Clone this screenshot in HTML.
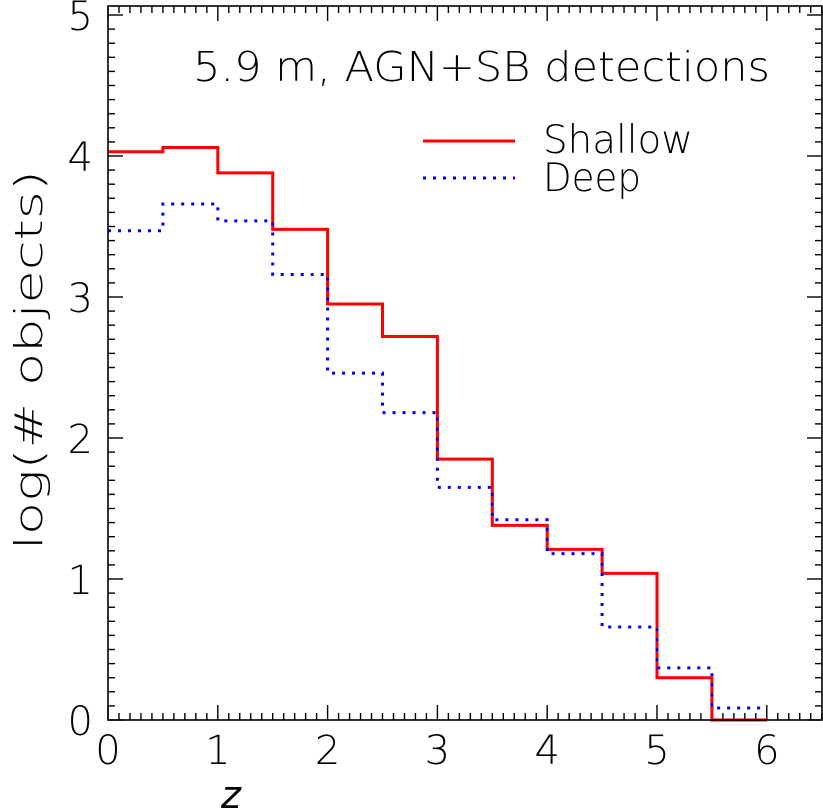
<!DOCTYPE html>
<html><head><meta charset="utf-8"><style>
html,body{margin:0;padding:0;background:#fff;}
svg{display:block;font-family:"DejaVu Sans","Liberation Sans",sans-serif;}
</style></head><body>
<svg id="chart" width="823" height="811" viewBox="0 0 823 811" xmlns="http://www.w3.org/2000/svg">
<g id="ticks"></g>
<g id="series"></g>
<rect x="108" y="6" width="714" height="714" fill="none" stroke="#000" stroke-width="1.6"/>
<text x="193" y="81" font-size="41" font-weight="300" fill="#000" textLength="577" lengthAdjust="spacingAndGlyphs">5.9 m, AGN+SB detections</text>
<line x1="423" y1="141" x2="515" y2="141" stroke="#f00" stroke-width="3"/>
<text x="543" y="153" font-size="39" font-weight="300" textLength="150" lengthAdjust="spacingAndGlyphs">Shallow</text>
<line x1="423" y1="178" x2="515" y2="178" stroke="#00f" stroke-width="3" stroke-dasharray="3,7"/>
<text x="543" y="191" font-size="39" font-weight="300" textLength="98" lengthAdjust="spacingAndGlyphs">Deep</text>
<text x="221" y="808" font-size="38" font-style="italic" font-weight="300">z</text>
<text transform="translate(42,360) rotate(-90)" text-anchor="middle" font-size="38" font-weight="300" textLength="380" lengthAdjust="spacingAndGlyphs">log(# objects)</text>
</svg>
<script>
const binStarts = [0,0.5,1,1.5,2,2.5,3,3.5,4,4.5,5,5.5];
const shallowValues = [4.03,4.06,3.88,3.48,2.95,2.72,1.85,1.38,1.21,1.04,0.30,0.0];
const deepValues = [3.47,3.66,3.54,3.16,2.46,2.18,1.65,1.42,1.18,0.66,0.37,0.085];
const xTickLabels = ["0","1","2","3","4","5","6"];
const yTickLabels = ["0","1","2","3","4","5"];
const binWidth = 0.5;

const NS="http://www.w3.org/2000/svg";
const X0=108, XS=109.8, Y0=720, YS=141;
const xs=v=>X0+v*XS, ys=v=>Y0-v*YS;
const tg=document.getElementById('ticks');
function ln(g,x1,y1,x2,y2,name){
  const l=document.createElementNS(NS,'line');
  l.setAttribute('x1',x1);l.setAttribute('y1',y1);l.setAttribute('x2',x2);l.setAttribute('y2',y2);
  l.setAttribute('stroke','#000');l.setAttribute('stroke-width','1.4');
  
  
  g.appendChild(l);
}
for(let i=0;i<=65;i++){
  const x=xs(i/10), L=(i%10===0)?15:7;
  ln(tg,x,720,x,720-L,'x-tick');
  ln(tg,x,6,x,6+L,'x-tick-top');
}
for(let i=0;i<=50;i++){
  const y=ys(i/10), L=(i%10===0)?15:7;
  ln(tg,108,y,108+L,y,'y-tick');
  ln(tg,822,y,822-L,y,'y-tick-right');
}
xTickLabels.forEach(s=>{
  const t=document.createElementNS(NS,'text');
  t.setAttribute('x',xs(+s));t.setAttribute('y',764);t.setAttribute('text-anchor','middle');
  t.setAttribute('font-size','40');t.setAttribute('font-weight','300');t.textContent=s;
  
  
  tg.appendChild(t);
});
yTickLabels.forEach(s=>{
  const t=document.createElementNS(NS,'text');
  t.setAttribute('x',93);t.setAttribute('y',ys(+s)+15);t.setAttribute('text-anchor','end');
  t.setAttribute('font-size','40');t.setAttribute('font-weight','300');t.textContent=s;
  
  
  tg.appendChild(t);
});
function stepPath(vals){
  let d='';
  binStarts.forEach((b,i)=>{
    const x1=xs(b), x2=xs(b+binWidth), y=ys(vals[i]);
    d+=(i===0?'M'+x1+','+y:'L'+x1+','+y)+' L'+x2+','+y+' ';
  });
  return d;
}
const sg=document.getElementById('series');
const pd=document.createElementNS(NS,'path');
pd.setAttribute('d',stepPath(deepValues));pd.setAttribute('fill','none');
pd.setAttribute('stroke','#00f');pd.setAttribute('stroke-width','3');pd.setAttribute('stroke-dasharray','3,7');


const ps=document.createElementNS(NS,'path');
ps.setAttribute('d',stepPath(shallowValues));ps.setAttribute('fill','none');
ps.setAttribute('stroke','#f00');ps.setAttribute('stroke-width','3');


sg.appendChild(ps);sg.appendChild(pd);
</script>
</body></html>
